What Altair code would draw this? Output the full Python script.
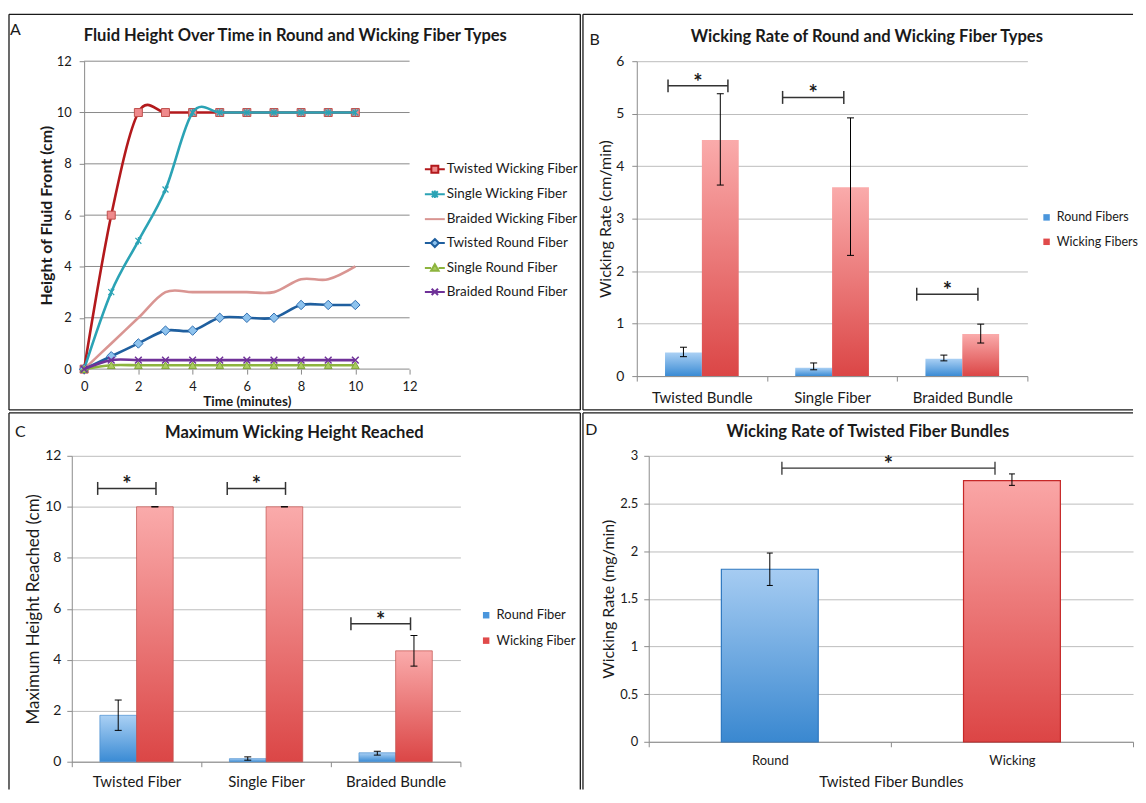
import altair as alt
import pandas as pd

FONT = "Lato"
TXT = "#1a1a1a"
BORDER = "#1a1a1a"
AX_A = "#8a8a8a"
AX = "#8c8c8c"
GRID = "#bdbdbd"
TITLE_SIZE = 16.6

# ---------------- Panel A data ----------------
time_min = [0, 1, 2, 3, 4, 5, 6, 7, 8, 9, 10]
series_A = ["Twisted Wicking Fiber", "Single Wicking Fiber", "Braided Wicking Fiber",
            "Twisted Round Fiber", "Single Round Fiber", "Braided Round Fiber"]
h_twisted_wicking = [0, 6, 10, 10, 10, 10, 10, 10, 10, 10, 10]
h_single_wicking = [0, 3, 5, 7, 10, 10, 10, 10, 10, 10, 10]
h_braided_wicking = [0, 1, 2, 3, 3, 3, 3, 3, 3.5, 3.5, 4]
h_twisted_round = [0, 0.5, 1, 1.5, 1.5, 2, 2, 2, 2.5, 2.5, 2.5]
h_single_round = [0, 0.15, 0.15, 0.15, 0.15, 0.15, 0.15, 0.15, 0.15, 0.15, 0.15]
h_braided_round = [0, 0.35, 0.35, 0.35, 0.35, 0.35, 0.35, 0.35, 0.35, 0.35, 0.35]
values_A = [h_twisted_wicking, h_single_wicking, h_braided_wicking,
            h_twisted_round, h_single_round, h_braided_round]
ticks_A = [0, 2, 4, 6, 8, 10, 12]

# ---------------- Panel B data ----------------
cats_B = ["Twisted Bundle", "Single Fiber", "Braided Bundle"]
groups_B = ["Round Fibers", "Wicking Fibers"]
rate_round_B = [0.45, 0.16, 0.33]
rate_round_B_lo = [0.37, 0.12, 0.29]
rate_round_B_hi = [0.55, 0.25, 0.40]
rate_wick_B = [4.5, 3.6, 0.8]
rate_wick_B_lo = [3.64, 2.30, 0.63]
rate_wick_B_hi = [5.38, 4.92, 0.99]
brk_B_start = [0.24, 1.12, 2.15]
brk_B_end = [0.70, 1.59, 2.62]
brk_B_y = [5.53, 5.31, 1.56]

# ---------------- Panel C data ----------------
cats_C = ["Twisted Fiber", "Single Fiber", "Braided Bundle"]
groups_C = ["Round Fiber", "Wicking Fiber"]
max_round_C = [1.82, 0.12, 0.35]
max_round_C_lo = [1.23, 0.06, 0.26]
max_round_C_hi = [2.42, 0.19, 0.41]
max_wick_C = [10, 10, 4.35]
max_wick_C_lo = [10, 10, 3.75]
max_wick_C_hi = [10, 10, 4.95]
brk_C_start = [0.20, 1.20, 2.155]
brk_C_end = [0.65, 1.65, 2.615]
brk_C_y = [10.72, 10.72, 5.41]

# ---------------- Panel D data ----------------
cats_D = ["Round", "Wicking"]
rate_D = [1.81, 2.74]
rate_D_lo = [1.64, 2.69]
rate_D_hi = [1.98, 2.81]
brk_D_start = [0.55]
brk_D_end = [1.43]
brk_D_y = [2.87]


# ---------------- helpers ----------------
def vgrad(top, bottom):
    return alt.Gradient(gradient="linear",
                        stops=[alt.GradientStop(color=top, offset=0),
                               alt.GradientStop(color=bottom, offset=1)],
                        x1=0, x2=0, y1=0, y2=1)


BLUE_G = vgrad("#aad0f4", "#3a8bd4")
RED_G = vgrad("#faabab", "#db4646")


def decor(L, T, R, B, title, tx, ty, letter, lx, ly, left=True, right=True, bottom=True):
    d = alt.Chart(alt.Data(values=[{"k": 0}]))
    st = dict(color=BORDER, strokeWidth=1.3)
    out = [d.mark_rule(**st).encode(x=alt.value(L), x2=alt.value(R), y=alt.value(T))]
    if left:
        out.append(d.mark_rule(**st).encode(x=alt.value(L), y=alt.value(T), y2=alt.value(B)))
    if right:
        out.append(d.mark_rule(**st).encode(x=alt.value(R), y=alt.value(T), y2=alt.value(B)))
    if bottom:
        out.append(d.mark_rule(**st).encode(x=alt.value(L), x2=alt.value(R), y=alt.value(B)))
    out.append(d.mark_text(text=title, font=FONT, fontSize=TITLE_SIZE, fontWeight="bold",
                           color=TXT, align="center", baseline="middle")
               .encode(x=alt.value(tx), y=alt.value(ty)))
    out.append(d.mark_text(text=letter, font=FONT, fontSize=16, color=TXT,
                           align="center", baseline="middle")
               .encode(x=alt.value(lx), y=alt.value(ly)))
    return out


# ---------------- Panel A ----------------
# the group origin is shared with panel C (same grid column); the data area starts 12.4px in
A_IN = 12.4
W_A, H_A = 339, 309
dfA = pd.DataFrame([{"t": t, "v": v, "series": s}
                    for s, vals in zip(series_A, values_A) for t, v in zip(time_min, vals)])
dfA_grid = pd.DataFrame({"g": ticks_A})

line_colors = ["#b3191c", "#2ba3b5", "#d99592", "#1f5f9f", "#8db43e", "#6f3198"]
legend_fills = ["#ef8a8c", "#2ba3b5", "#d99592", "#8ec3ee", "#a9cc5f", "#6f3198"]
legend_paths = [
    "M-1,0L-0.35,0M0.35,0L1,0M-0.35,-0.35L0.35,-0.35L0.35,0.35L-0.35,0.35Z",
    "M-1,0L1,0M-0.3,-0.3L0.3,0.3M-0.3,0.3L0.3,-0.3M0,-0.38L0,0.38",
    "M-1,0L1,0",
    "M-1,0L-0.4,0M0.4,0L1,0M0,-0.4L0.4,0L0,0.4L-0.4,0Z",
    "M-1,0L-0.38,0M0.38,0L1,0M0,-0.38L0.38,0.28L-0.38,0.28Z",
    "M-1,0L1,0M-0.32,-0.32L0.32,0.32M-0.32,0.32L0.32,-0.32",
]
markers = [
    dict(shape="square", size=64, filled=True, fill="#ef8a8c", stroke="#c0504d", strokeWidth=1),
    dict(shape="M-0.8,-0.8L0.8,0.8M-0.8,0.8L0.8,-0.8M0,-1L0,1", size=56, filled=False,
         stroke="#2ba3b5", strokeWidth=1.2),
    None,
    dict(shape="diamond", size=90, filled=True, fill="#8ec3ee", stroke="#2e6db0", strokeWidth=1),
    dict(shape="triangle-up", size=60, filled=True, fill="#a9cc5f", stroke="#7fa538", strokeWidth=1),
    dict(shape="M-0.9,-0.9L0.9,0.9M-0.9,0.9L0.9,-0.9", size=56, filled=False,
         stroke="#6f3198", strokeWidth=1.5),
]

scale_xA = alt.Scale(domain=[0, 12], range=[A_IN, W_A], nice=False)
scale_yA = alt.Scale(domain=[0, 12], nice=False)
xA = alt.X("t:Q", scale=scale_xA,
           axis=alt.Axis(values=ticks_A, title="Time (minutes)", grid=False, domain=False,
                         labelFlush=False, tickColor=AX_A, tickSize=5,
                         labelFont=FONT, labelFontSize=13, labelColor=TXT, labelPadding=6,
                         titleFont=FONT, titleFontSize=13.5, titleFontWeight="bold",
                         titleColor=TXT, titlePadding=2, titleX=(A_IN + W_A) / 2))


def yA(field):
    return alt.Y(field + ":Q", scale=scale_yA,
                 axis=alt.Axis(values=ticks_A, title="Height of Fluid  Front (cm)", grid=False,
                               offset=-A_IN, domainColor=AX_A, tickColor=AX_A, tickSize=5,
                               labelFont=FONT, labelFontSize=13, labelColor=TXT, labelPadding=8,
                               titleFont=FONT, titleFontSize=16, titleFontWeight="bold",
                               titleColor=TXT, titlePadding=2))


layersA = decor(-63, -47, 510.35, 350, "Fluid Height Over Time in Round and Wicking Fiber Types",
                224.35, -25.65, "A", -56.65, -31.65)
# horizontal gridlines (the one at 0 is the time axis line)
layersA.append(alt.Chart(dfA_grid).mark_rule(color=AX_A, strokeWidth=1).encode(
    y=yA("g"), x=alt.XDatum(0, scale=scale_xA), x2=alt.X2Datum(12)))
for i, s in enumerate(series_A):
    base = alt.Chart(dfA).transform_filter(alt.datum.series == s)
    layersA.append(base.mark_line(color=line_colors[i], strokeWidth=2.6, interpolate="cardinal")
                   .encode(x=xA, y=yA("v")))
    if markers[i] is not None:
        layersA.append(base.mark_point(opacity=1, **markers[i]).encode(x=xA, y=yA("v")))

legA = alt.Legend(title=None, orient="none", legendX=353.35, legendY=97.5, symbolSize=400,
                  symbolStrokeWidth=2, symbolOpacity=1, labelFont=FONT, labelFontSize=13.5,
                  labelColor=TXT, rowPadding=6.0, labelOffset=1, padding=0)
layersA.append(
    alt.Chart(dfA).transform_filter("false").mark_point(filled=True, opacity=1).encode(
        x=xA, y=yA("v"),
        fill=alt.Fill("series:N", scale=alt.Scale(domain=series_A, range=legend_fills), legend=legA),
        stroke=alt.Stroke("series:N", scale=alt.Scale(domain=series_A, range=line_colors), legend=legA),
        shape=alt.Shape("series:N", scale=alt.Scale(domain=series_A, range=legend_paths), legend=legA),
    )
)
panelA = alt.layer(*layersA).properties(width=W_A, height=H_A)

BAR_BAND = 0.283


# ---------------- grouped bar panels (B, C) ----------------
def grouped_panel(cats, groups, vr, vr_lo, vr_hi, vw, vw_lo, vw_hi, ymax, ystep, ytitle,
                  b0, b1, by, W, H, geo, title, tpos, letter, lpos, leg_xy, leg_size,
                  xlab_size, xlab_pad, ylab_size, ylab_pad, ytitle_size, ytitle_pad,
                  bar_strokes, right=True, bottom=True):
    rows = []
    for i, c in enumerate(cats):
        rows.append({"cat": c, "grp": groups[0], "val": vr[i], "lo": vr_lo[i], "hi": vr_hi[i]})
        rows.append({"cat": c, "grp": groups[1], "val": vw[i], "lo": vw_lo[i], "hi": vw_hi[i]})
    df = pd.DataFrame(rows)
    dfb = pd.DataFrame({"b0": b0, "b1": b1, "by": by})
    dfb["bm"] = (dfb["b0"] + dfb["b1"]) / 2
    half = W / len(cats) * BAR_BAND / 2

    x = alt.X("cat:N", sort=cats, scale=alt.Scale(domain=cats, paddingInner=0, paddingOuter=0),
              axis=alt.Axis(title=None, labelAngle=0, tickBand="extent", ticks=True, tickSize=5,
                            tickColor=AX, domainColor=AX, grid=False, labelFont=FONT,
                            labelFontSize=xlab_size, labelColor=TXT, labelPadding=xlab_pad))
    yvals = [round(k * ystep, 3) for k in range(int(round(ymax / ystep)) + 1)]

    def yc(field):
        return alt.Y(field + ":Q", stack=None, scale=alt.Scale(domain=[0, ymax], nice=False),
                     axis=alt.Axis(values=yvals, title=ytitle, grid=True, gridColor=GRID,
                                   domainColor=AX, tickColor=AX, tickSize=5, labelFont=FONT,
                                   labelFontSize=ylab_size, labelColor=TXT, labelPadding=ylab_pad,
                                   titleFont=FONT, titleFontSize=ytitle_size,
                                   titleFontWeight="normal", titleColor=TXT,
                                   titlePadding=ytitle_pad))

    base = alt.Chart(df)
    leg = alt.Legend(title=None, orient="none", legendX=leg_xy[0], legendY=leg_xy[1],
                     symbolType="square", symbolSize=42, symbolStrokeWidth=0, labelFont=FONT,
                     labelFontSize=leg_size, labelColor=TXT, rowPadding=11.5, labelOffset=4,
                     padding=0)
    legend_bar = base.transform_filter("false").mark_bar(opacity=1).encode(
        x=x, y=yc("val"),
        fill=alt.Fill("grp:N", scale=alt.Scale(domain=groups, range=["#4a96dc", "#e04a4a"]),
                      legend=leg))
    layers = [legend_bar]
    for g, grad, stk, off in [(groups[0], BLUE_G, bar_strokes[0], -half),
                              (groups[1], RED_G, bar_strokes[1], half)]:
        sub = base.transform_filter(alt.datum.grp == g)
        layers.append(sub.mark_bar(opacity=1, fill=grad, stroke=stk, strokeWidth=bar_strokes[2],
                                   width=alt.RelativeBandSize(BAR_BAND), xOffset=off)
                      .encode(x=x, y=yc("val")))
        layers.append(sub.mark_rule(color="#000000", strokeWidth=1, xOffset=off)
                      .encode(x=x, y=yc("lo"), y2="hi"))
        for f in ("hi", "lo"):
            layers.append(sub.mark_tick(orient="horizontal", size=7, thickness=1,
                                        color="#000000", opacity=1, xOffset=off)
                          .encode(x=x, y=yc(f)))
    bars = alt.layer(*layers)

    xq = lambda f: alt.X(f + ":Q", scale=alt.Scale(domain=[0, len(cats)], nice=False, zero=False),
                         axis=None)
    bb = alt.Chart(dfb)
    brk = alt.layer(
        bb.mark_rule(color="#333333", strokeWidth=1.5).encode(x=xq("b0"), x2="b1", y=yc("by")),
        bb.mark_tick(orient="vertical", size=13, thickness=1.5, color="#333333", opacity=1)
        .encode(x=xq("b0"), y=yc("by")),
        bb.mark_tick(orient="vertical", size=13, thickness=1.5, color="#333333", opacity=1)
        .encode(x=xq("b1"), y=yc("by")),
        bb.mark_text(text="*", font=FONT, fontSize=22, fontWeight="bold", color=TXT,
                     baseline="alphabetic", dy=4).encode(x=xq("bm"), y=yc("by")),
    )
    L, T, R, B = geo
    dec = decor(L, T, R, B, title, tpos[0], tpos[1], letter, lpos[0], lpos[1],
                right=right, bottom=bottom)
    return alt.layer(*dec, bars, brk).resolve_scale(x="independent").properties(width=W, height=H)


panelB = grouped_panel(
    cats_B, groups_B, rate_round_B, rate_round_B_lo, rate_round_B_hi,
    rate_wick_B, rate_wick_B_lo, rate_wick_B_hi, 6, 1, "Wicking Rate (cm/min)",
    brk_B_start, brk_B_end, brk_B_y, 392, 316, (-54, -47, 498, 350),
    "Wicking Rate of Round and Wicking Fiber Types", (230.85, -24.65), "B", (-42.15, -21.15),
    (405, 150.5), 12.5, 15, 10, 14, 8, 16, 2, ("#6aa8e0", "#e06060", 0),
    right=False, bottom=True)

panelC = grouped_panel(
    cats_C, groups_C, max_round_C, max_round_C_lo, max_round_C_hi,
    max_wick_C, max_wick_C_lo, max_wick_C_hi, 12, 2, "Maximum Height Reached (cm)",
    brk_C_start, brk_C_end, brk_C_y, 390, 307, (-63, -43, 510.35, 335),
    "Maximum Wicking Height Reached", (223.35, -22.65), "C", (-51.65, -24.15),
    (409.35, 153.5), 13, 15, 8, 14, 6, 17, 2, ("#4a8fd0", "#c0504d", 0.7),
    right=True, bottom=False)

# ---------------- Panel D ----------------
W_D, H_D = 486, 287
dfD = pd.DataFrame({"cat": cats_D, "val": rate_D, "lo": rate_D_lo, "hi": rate_D_hi})
dfDb = pd.DataFrame({"b0": brk_D_start, "b1": brk_D_end, "by": brk_D_y})
dfDb["bm"] = (dfDb["b0"] + dfDb["b1"]) / 2

xD = alt.X("cat:N", sort=cats_D, scale=alt.Scale(domain=cats_D, paddingInner=0, paddingOuter=0),
           axis=alt.Axis(title="Twisted Fiber Bundles", labelAngle=0, tickBand="extent", ticks=True,
                         tickSize=5, tickColor=AX, domainColor=AX, grid=False, labelFont=FONT,
                         labelFontSize=13, labelColor=TXT, labelPadding=8, titleFont=FONT,
                         titleFontSize=15, titleFontWeight="normal", titleColor=TXT,
                         titlePadding=7))


def yD(field):
    return alt.Y(field + ":Q", stack=None, scale=alt.Scale(domain=[0, 3], nice=False),
                 axis=alt.Axis(values=[0, 0.5, 1, 1.5, 2, 2.5, 3], format="~g",
                               title="Wicking Rate (mg/min)", grid=True, gridColor=GRID,
                               domainColor=AX, tickColor=AX, tickSize=5, labelFont=FONT,
                               labelFontSize=13, labelColor=TXT, labelPadding=6, titleFont=FONT,
                               titleFontSize=16, titleFontWeight="normal", titleColor=TXT,
                               titlePadding=3))


bD = alt.Chart(dfD)
barsD = alt.layer(
    bD.transform_filter(alt.datum.cat == cats_D[0]).mark_bar(
        opacity=1, fill=vgrad("#a6ccf2", "#3a88d0"), stroke="#2f78c0", strokeWidth=1.2,
        width=alt.RelativeBandSize(0.4)).encode(x=xD, y=yD("val")),
    bD.transform_filter(alt.datum.cat == cats_D[1]).mark_bar(
        opacity=1, fill=vgrad("#faa6a6", "#dc4545"), stroke="#c62828", strokeWidth=1.2,
        width=alt.RelativeBandSize(0.4)).encode(x=xD, y=yD("val")),
    bD.mark_rule(color="#000000", strokeWidth=1).encode(x=xD, y=yD("lo"), y2="hi"),
    bD.mark_tick(orient="horizontal", size=6, thickness=1, color="#000000", opacity=1)
    .encode(x=xD, y=yD("hi")),
    bD.mark_tick(orient="horizontal", size=6, thickness=1, color="#000000", opacity=1)
    .encode(x=xD, y=yD("lo")),
)
xqD = lambda f: alt.X(f + ":Q", scale=alt.Scale(domain=[0, 2], nice=False, zero=False), axis=None)
bbD = alt.Chart(dfDb)
brkD = alt.layer(
    bbD.mark_rule(color="#333333", strokeWidth=1.3).encode(x=xqD("b0"), x2="b1", y=yD("by")),
    bbD.mark_tick(orient="vertical", size=13, thickness=1.3, color="#333333", opacity=1)
    .encode(x=xqD("b0"), y=yD("by")),
    bbD.mark_tick(orient="vertical", size=13, thickness=1.3, color="#333333", opacity=1)
    .encode(x=xqD("b1"), y=yD("by")),
    bbD.mark_text(text="*", font=FONT, fontSize=22, fontWeight="bold", color=TXT,
                  baseline="alphabetic", dy=4).encode(x=xqD("bm"), y=yD("by")),
)
decD = decor(-66, -43, 486, 335, "Wicking Rate of Twisted Fiber Bundles", 219.95, -23.65, "D",
             -57.65, -25.65, right=False, bottom=False)
panelD = alt.layer(*decD, barsD, brkD).resolve_scale(x="independent").properties(
    width=W_D, height=H_D)

# ---------------- assemble ----------------
indep = dict(fill="independent", stroke="independent", shape="independent")
chart = alt.concat(panelA, panelB, panelC, panelD, columns=2, spacing=1, align="none",
                   bounds="full").resolve_scale(**indep).resolve_legend(**indep).properties(
    padding={"left": 0, "top": 4, "right": 0, "bottom": 0}, background="white"
).configure(font=FONT).configure_view(stroke=None)

chart.save("out.html", embed_options={"renderer": "svg", "actions": False})
